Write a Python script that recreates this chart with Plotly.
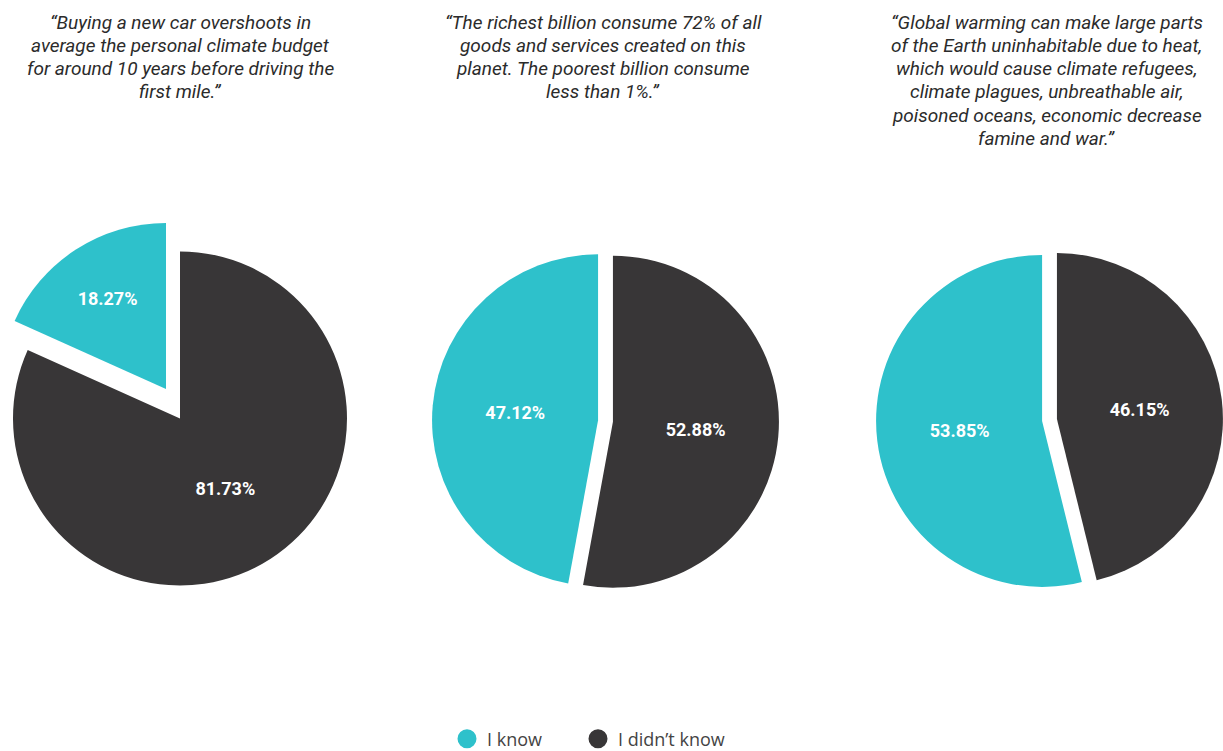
import plotly.graph_objects as go

# ---- data ----
labels = ["I didn't know", "I know"]
q1_values = [81.73, 18.27]
q2_values = [52.88, 47.12]
q3_values = [46.15, 53.85]
title_lines = [
    ["“Buying a new car overshoots in",
     "average the personal climate budget",
     "for around 10 years before driving the",
     "first mile.”"],
    ["“The richest billion consume 72% of all",
     "goods and services created on this",
     "planet. The poorest billion consume",
     "less than 1%.”"],
    ["“Global warming can make large parts",
     "of the Earth uninhabitable due to heat,",
     "which would cause climate refugees,",
     "climate plagues, unbreathable air,",
     "poisoned oceans, economic decrease",
     "famine and war.”"],
]
legend_names = ["I know", "I didn’t know"]

# ---- style ----
W, H = 1223, 751
TEAL = "#2ec1cb"
DARK = "#383637"
CLEAR = "rgba(0,0,0,0)"
label_font = dict(family="Roboto", size=18, color="white", weight="bold")


def dom(cx, cy, half_w, half_h=None):
    if half_h is None:
        half_h = half_w
    x0 = max(0.0, (cx - half_w) / W)
    x1 = min(1.0, (cx + half_w) / W)
    y0 = max(0.0, (H - (cy + half_h)) / H)
    y1 = min(1.0, (H - (cy - half_h)) / H)
    return dict(x=[x0, x1], y=[y0, y1])


fig = go.Figure()

common = dict(
    labels=labels,
    sort=False,
    direction="clockwise",
    textposition="inside",
    insidetextorientation="horizontal",
    textfont=label_font,
    showlegend=False,
    marker_line_width=0,
)

# Question 1: "I know" slice exploded away from the rest
fig.add_trace(go.Pie(values=q1_values, marker_colors=[DARK, CLEAR],
                     texttemplate=["%{percent:.2%}", ""],
                     domain=dom(180, 418.5, 167), **common))
fig.add_trace(go.Pie(values=q1_values, marker_colors=[CLEAR, TEAL],
                     texttemplate=["", "%{percent:.2%}"],
                     domain=dom(166, 389, 166), hoverinfo="skip", **common))

# Question 2
fig.add_trace(go.Pie(values=q2_values, marker_colors=[DARK, TEAL],
                     texttemplate="%{percent:.2%}", pull=[0.045, 0.045],
                     domain=dom(605.5, 421, 166 * 1.045), **common))
# Question 3
fig.add_trace(go.Pie(values=q3_values, marker_colors=[DARK, TEAL],
                     texttemplate="%{percent:.2%}", pull=[0.045, 0.045],
                     domain=dom(1049.5, 420, 166 * 1.045), **common))

# legend entries (circles), each in its own legend box
for name, col, lg in zip(legend_names, [TEAL, DARK], ["legend", "legend2"]):
    fig.add_trace(go.Scatter(x=[None], y=[None], mode="markers", name=name, legend=lg,
                             marker=dict(symbol="circle", size=16, color=col,
                                         line=dict(color=col, width=3))))

title_x = [180, 603, 1046.5]
for lines, xpx in zip(title_lines, title_x):
    for i, line in enumerate(lines):
        fig.add_annotation(text=line, x=xpx / W, y=1 - (22 + i * 23.3) / H,
                           xref="paper", yref="paper",
                           xanchor="center", yanchor="middle", showarrow=False,
                           font=dict(family="Roboto", size=19, color="#2b2b2b", style="italic"))

legend_style = dict(orientation="h", xanchor="left", y=(H - 739) / H, yanchor="middle",
                    font=dict(family="Open Sans", size=18, color="#444444"),
                    itemsizing="trace", bgcolor="rgba(0,0,0,0)")

fig.update_layout(
    width=W, height=H,
    margin=dict(l=0, r=0, t=0, b=0, autoexpand=False),
    paper_bgcolor="white", plot_bgcolor="white",
    xaxis=dict(visible=False), yaxis=dict(visible=False),
    legend=dict(x=(467 - 20) / W, **legend_style),
    legend2=dict(x=(598 - 20) / W, **legend_style),
    showlegend=True,
)

fig.write_html("out.html")
